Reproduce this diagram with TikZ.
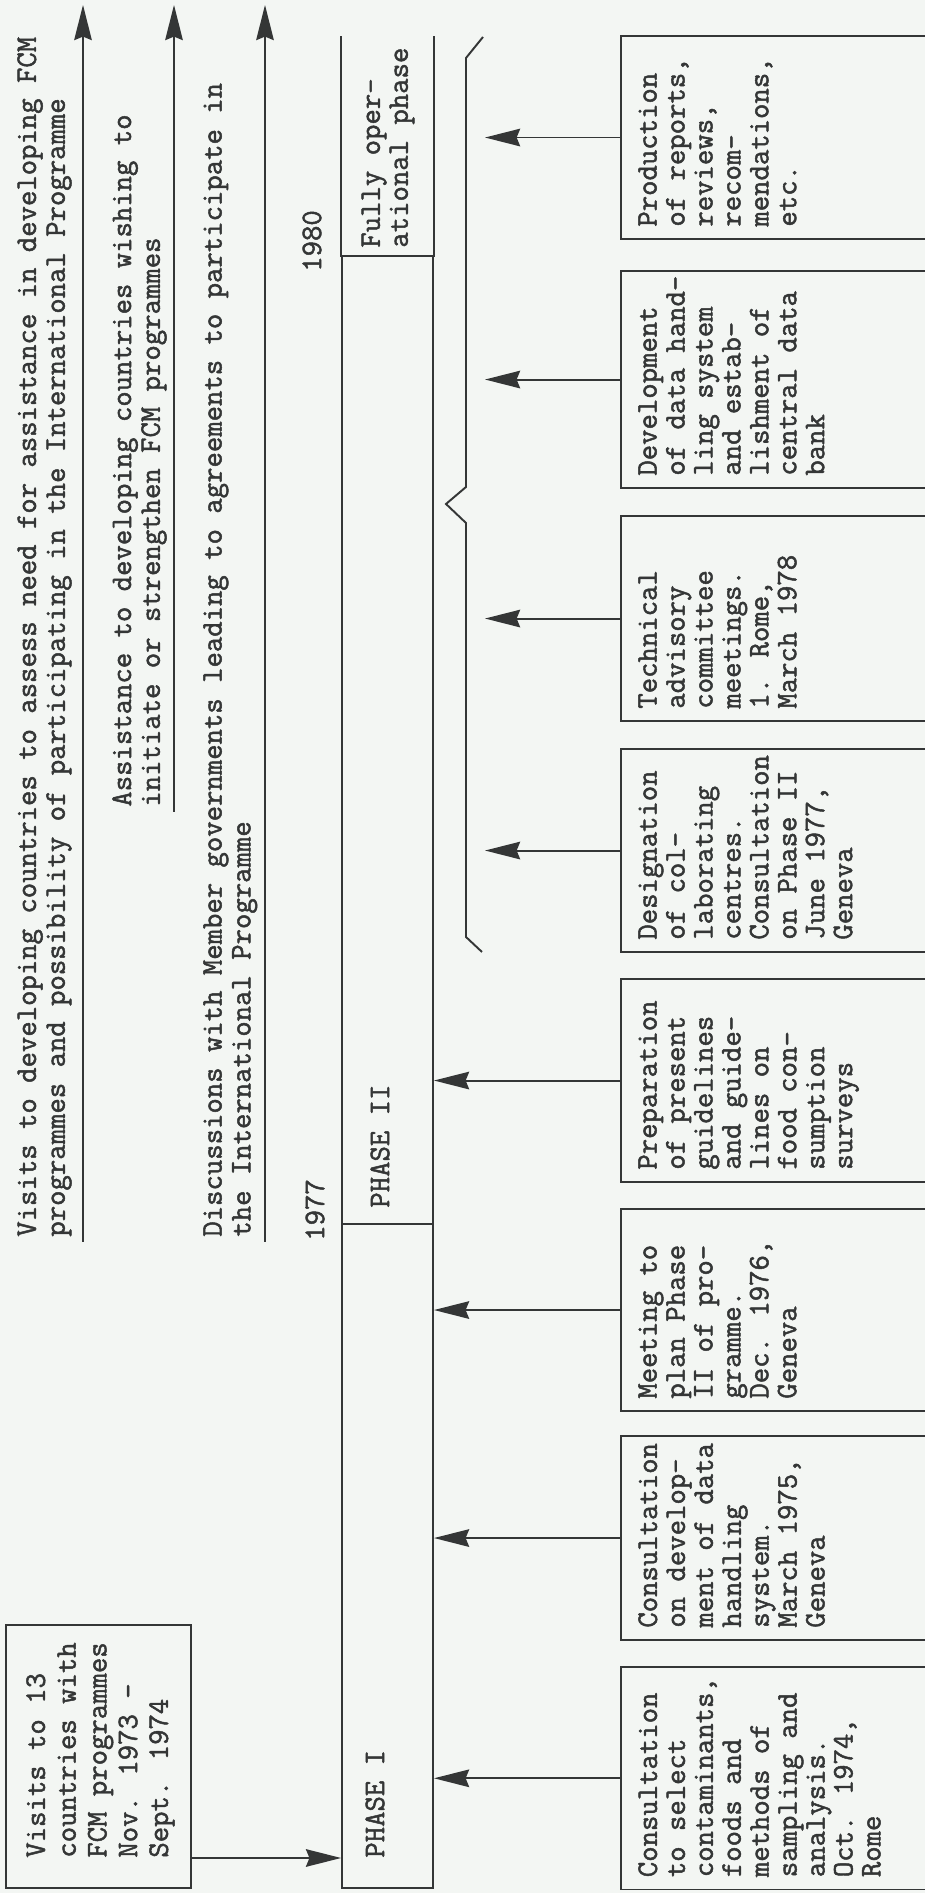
\documentclass[tikz,border=0pt]{standalone}
\usepackage{fontspec}
\newfontfamily\typew[RawFeature={embolden=1.6}]{Latin Modern Mono}
\usetikzlibrary{arrows.meta}

\definecolor{ink}{RGB}{52,54,54}
\definecolor{paper}{RGB}{243,246,243}

\tikzset{
  arr/.style={draw=ink, line width=1.1pt, -{Stealth[length=20pt,width=10pt,inset=2pt]}},
  tt/.style={font=\typew\fontsize{17}{15.9}\selectfont, text=ink, inner sep=0pt, align=left},
  ttwide/.style={tt, font=\typew\fontsize{17}{16.4}\selectfont},
  evbox/.style={draw=ink, line width=1.1pt, minimum height=6.4cm, minimum width=4.06cm, inner sep=0pt, anchor=north west},
  phasebox/.style={draw=ink, line width=1.1pt, minimum height=1.82cm, inner sep=0pt, anchor=south west}
}

\begin{document}
\begin{tikzpicture}[x=0.02cm, y=0.02cm, rotate=90, transform shape]
    % Page
    \useasboundingbox (0,-925) rectangle (1893,0);
    \fill[paper] (0,-925) rectangle (1893,0);

    % Long arrows and their texts
    \coordinate (a1s) at (651,-83);
    \coordinate (a1e) at (1888,-83);
    \coordinate (a2s) at (1081,-174);
    \coordinate (a2e) at (1888,-174);
    \coordinate (a3s) at (651,-265);
    \coordinate (a3e) at (1888,-265);
    \draw[arr] (a1s) -- (a1e);
    \draw[arr] (a2s) -- (a2e);
    \draw[arr] (a3s) -- (a3e);
    \node[ttwide, anchor=north west] (visdev) at (656,-17) {Visits to developing countries to assess need for assistance in developing FCM\\programmes and possibility of participating in the International Programme};
    \node[ttwide, anchor=north west] (assist) at (1086,-112) {Assistance to developing countries wishing to\\initiate or strengthen FCM programmes};
    \node[ttwide, anchor=north west] (discuss) at (656,-203) {Discussions with Member governments leading to agreements to participate in\\the International Programme};

    % Timeline bar
    \node[phasebox, minimum width=13.28cm] (ph1) at (4,-434) {};
    \node[phasebox, minimum width=19.36cm] (ph2) at (668,-434) {};
    \node[phasebox, minimum width=4.38cm, draw=none] (ph3) at (1636,-434) {};
    \draw[ink, line width=1.1pt] (ph3.north west) -- (ph3.north east) (ph3.south west) -- (ph3.south east);
    \node[tt, anchor=west] (ph1t) at (35,-375) {PHASE I};
    \node[tt, anchor=west] (ph2t) at (685,-380) {PHASE II};
    \node[tt, anchor=west] (ph3t) at (1645,-388) {Fully oper-\\ational phase};
    \node[tt] (y77) at (683,-315) {1977};
    \node[tt] (y80) at (1652,-312) {1980};

    % Visits box
    \node[evbox, anchor=south west, minimum width=5.26cm, minimum height=3.7cm] (vb) at (4,-192) {};
    \node[tt, anchor=north west, font=\typew\fontsize{17}{17.5}\selectfont] (vbt) at (35,-26) {Visits to 13\\countries with\\FCM programmes\\Nov. 1973 -\\Sept. 1974};
    \draw[arr] (vb.south -| vbt.west) -- (ph1.north -| vbt.west);

    % Activity boxes
    \node[evbox, minimum width=4.45cm] (p1) at (2.5,-620) {};
    \node[evbox, minimum width=4.08cm] (p2) at (252,-620) {};
    \node[evbox, minimum width=4.04cm] (p3) at (481,-620) {};
    \node[evbox] (p4) at (710,-620) {};
    \node[evbox] (p5) at (940,-620) {};
    \node[evbox, minimum width=4.1cm] (p6) at (1171,-620) {};
    \node[evbox, minimum width=4.34cm] (p7) at (1404,-620) {};
    \node[evbox] (p8) at (1653,-620) {};
    \node[tt, anchor=north west] (p1t) at (15.5,-638) {Consultation\\to select\\contaminants,\\foods and\\methods of\\sampling and\\analysis.\\Oct. 1974,\\Rome};
    \node[tt, anchor=north west] (p2t) at (265,-638) {Consultation\\on develop-\\ment of data\\handling\\system.\\March 1975,\\Geneva};
    \node[tt, anchor=north west] (p3t) at (494,-638) {Meeting to\\plan Phase\\II of pro-\\gramme.\\Dec. 1976,\\Geneva};
    \node[tt, anchor=north west] (p4t) at (723,-638) {Preparation\\of present\\guidelines\\and guide-\\lines on\\food con-\\sumption\\surveys};
    \node[tt, anchor=north west] (p5t) at (953,-638) {Designation\\of col-\\laborating\\centres.\\Consultation\\on Phase II\\June 1977,\\Geneva};
    \node[tt, anchor=north west] (p6t) at (1184,-638) {Technical\\advisory\\committee\\meetings.\\1. Rome,\\March 1978};
    \node[tt, anchor=north west] (p7t) at (1417,-638) {Development\\of data hand-\\ling system\\and estab-\\lishment of\\central data\\bank};
    \node[tt, anchor=north west] (p8t) at (1666,-638) {Production\\of reports,\\reviews,\\recom-\\mendations,\\etc.};

    % Brace over the later activities
    \coordinate (brc) at (0,-485);
    \draw[ink, line width=1.1pt] (1856,-483) -- (1835,-466) -- (1406,-466) -- (1389,-446)
        -- (1370,-466) -- (956,-466) -- (941,-482);

    % Arrows to the bar
    \draw[arr] (p1.north) -- (p1.north |- ph1.south);
    \draw[arr] (p2.north) -- (p2.north |- ph1.south);
    \draw[arr] (p3.north) -- (p3.north |- ph1.south);
    \draw[arr] (p4.north) -- (p4.north |- ph2.south);
    \draw[arr] (p5.north) -- (p5.north |- brc);
    \draw[arr] (p6.north) -- (p6.north |- brc);
    \draw[arr] (p7.north) -- (p7.north |- brc);
    \draw[arr] (p8.north) -- (p8.north |- brc);
\end{tikzpicture}
\end{document}
